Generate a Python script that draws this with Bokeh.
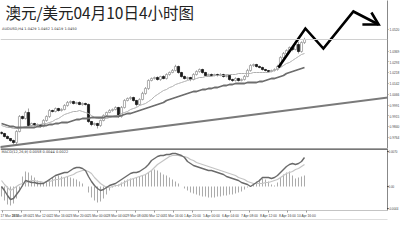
from bokeh.plotting import figure
from bokeh.models import (Range1d, Span, Slope, Label, PrintfTickFormatter, FixedTicker,
                          ColumnDataSource, LinearAxis, CustomJSTickFormatter)
from bokeh.layouts import column
from bokeh.embed import file_html
from bokeh.resources import INLINE

# ---------------- data (AUD/USD, H4) ----------------
first_open = 0.9800
closes = [
    0.9792, 0.9771, 0.9757, 0.9743, 0.9729, 0.9806, 0.9911, 0.9897, 0.9939, 0.9848,
    0.9862, 0.9848, 0.9855, 0.9841, 0.9883, 0.9911, 0.9953, 0.9946, 0.9967, 0.9953,
    0.9960, 0.9988, 1.0009, 1.0016, 1.0002, 1.0009, 0.9995, 1.0002, 0.9995, 0.9876,
    0.9855, 0.9862, 0.9848, 0.9883, 0.9918, 0.9939, 0.9953, 0.9960, 0.9974, 0.9911,
    0.9974, 1.0023, 1.0037, 1.0044, 1.0023, 0.9995, 1.0030, 1.0072, 1.0107, 1.0163,
    1.0177, 1.0184, 1.0170, 1.0191, 1.0177, 1.0205, 1.0219, 1.0233, 1.0261, 1.0219,
    1.0191, 1.0177, 1.0184, 1.0170, 1.0205, 1.0226, 1.0240, 1.0219, 1.0198, 1.0205,
    1.0198, 1.0205, 1.0198, 1.0205, 1.0191, 1.0198, 1.0170, 1.0163, 1.0177, 1.0163,
    1.0170, 1.0191, 1.0233, 1.0268, 1.0275, 1.0261, 1.0254, 1.0240, 1.0233, 1.0226,
    1.0233, 1.0240, 1.0261, 1.0324, 1.0352, 1.0373, 1.0394, 1.0380, 1.0415, 1.0366,
    1.0429, 1.0450,
]
# upper / lower shadow lengths in pips
wick_up = [
    6, 5, 8, 4, 6, 9, 10, 7, 12, 28,
    6, 5, 7, 4, 9, 8, 10, 6, 7, 5,
    8, 9, 10, 7, 6, 5, 8, 7, 6, 7,
    4, 6, 5, 7, 8, 6, 9, 7, 8, 5,
    10, 9, 7, 8, 6, 5, 9, 12, 10, 8,
    7, 6, 8, 5, 9, 8, 7, 10, 12, 7,
    5, 7, 6, 5, 9, 8, 7, 6, 5, 6,
    7, 5, 6, 8, 5, 7, 4, 6, 8, 5,
    7, 10, 12, 9, 6, 5, 7, 6, 5, 4,
    6, 8, 12, 9, 10, 8, 7, 9, 6, 20,
    8, 12,
]
wick_dn = [
    8, 7, 6, 9, 14, 10, 6, 8, 7, 10,
    6, 8, 5, 7, 6, 8, 9, 7, 6, 8,
    7, 6, 8, 9, 7, 6, 5, 8, 7, 10,
    12, 8, 21, 9, 6, 7, 5, 8, 6, 9,
    8, 7, 6, 9, 8, 14, 7, 6, 8, 9,
    6, 7, 8, 9, 6, 7, 8, 5, 6, 9,
    8, 7, 9, 12, 6, 7, 8, 9, 6, 7,
    8, 6, 7, 5, 8, 6, 9, 10, 7, 8,
    6, 7, 5, 8, 9, 7, 6, 8, 7, 9,
    6, 7, 8, 9, 6, 10, 8, 12, 6, 14,
    8, 10,
]
ma_fast = [
    0.9848, 0.9841, 0.9834, 0.9834, 0.9827, 0.9827, 0.9827, 0.9834, 0.9841, 0.9841,
    0.9848, 0.9848, 0.9855, 0.9855, 0.9862, 0.9862, 0.9869, 0.9876, 0.9890, 0.9897,
    0.9911, 0.9925, 0.9932, 0.9939, 0.9946, 0.9946, 0.9953, 0.9946, 0.9939, 0.9932,
    0.9918, 0.9904, 0.9897, 0.9897, 0.9897, 0.9897, 0.9904, 0.9911, 0.9918, 0.9918,
    0.9932, 0.9939, 0.9946, 0.9960, 0.9967, 0.9974, 0.9988, 0.9995, 1.0002, 1.0016,
    1.0030, 1.0051, 1.0065, 1.0079, 1.0093, 1.0100, 1.0114, 1.0121, 1.0135, 1.0142,
    1.0149, 1.0156, 1.0163, 1.0170, 1.0170, 1.0177, 1.0184, 1.0184, 1.0191, 1.0191,
    1.0191, 1.0198, 1.0198, 1.0198, 1.0198, 1.0205, 1.0205, 1.0205, 1.0205, 1.0212,
    1.0212, 1.0212, 1.0212, 1.0212, 1.0219, 1.0219, 1.0219, 1.0219, 1.0219, 1.0219,
    1.0226, 1.0233, 1.0247, 1.0254, 1.0268, 1.0282, 1.0289, 1.0303, 1.0317, 1.0331,
    1.0345, 1.0352,
]
ma_slow = [
    0.9862, 0.9855, 0.9848, 0.9841, 0.9841, 0.9834, 0.9834, 0.9834, 0.9834, 0.9834,
    0.9834, 0.9834, 0.9841, 0.9841, 0.9848, 0.9848, 0.9855, 0.9855, 0.9862, 0.9862,
    0.9869, 0.9869, 0.9869, 0.9876, 0.9883, 0.9890, 0.9890, 0.9897, 0.9897, 0.9897,
    0.9904, 0.9904, 0.9904, 0.9904, 0.9904, 0.9911, 0.9911, 0.9911, 0.9911, 0.9911,
    0.9918, 0.9925, 0.9932, 0.9932, 0.9939, 0.9946, 0.9953, 0.9960, 0.9967, 0.9974,
    0.9981, 0.9988, 0.9995, 1.0002, 1.0009, 1.0023, 1.0030, 1.0037, 1.0044, 1.0051,
    1.0058, 1.0065, 1.0072, 1.0079, 1.0086, 1.0086, 1.0093, 1.0100, 1.0100, 1.0107,
    1.0107, 1.0114, 1.0114, 1.0121, 1.0128, 1.0128, 1.0135, 1.0135, 1.0142, 1.0142,
    1.0142, 1.0142, 1.0149, 1.0149, 1.0149, 1.0149, 1.0156, 1.0156, 1.0163, 1.0170,
    1.0177, 1.0177, 1.0184, 1.0191, 1.0198, 1.0212, 1.0219, 1.0226, 1.0233, 1.0240,
    1.0247, 1.0254,
]
# long-term trend line (start value at bar 0, rise per bar)
trend_start = 0.9698
trend_per_bar = 0.000268

# MACD panel, in units of 0.0001
macd_main = [
    0, -8, -18, -26, -24, -16, -8, 2, 12, 10,
    8, 8, 6, 6, 6, 10, 14, 18, 22, 24,
    26, 28, 28, 32, 36, 38, 38, 36, 32, 20,
    10, 2, -4, -8, -6, -2, 2, 4, 6, 10,
    14, 18, 22, 26, 28, 28, 30, 34, 38, 44,
    52, 56, 60, 62, 62, 64, 64, 66, 66, 64,
    62, 58, 50, 46, 42, 40, 38, 36, 34, 32,
    32, 30, 28, 26, 24, 20, 18, 16, 14, 12,
    8, 6, 4, 0, 4, 8, 12, 18, 18, 18,
    16, 18, 22, 28, 34, 40, 44, 46, 44, 46,
    50, 58,
]
macd_signal = [
    12, 4, -2, -8, -4, 0, 4, 6, 8, 10,
    12, 12, 10, 10, 8, 10, 10, 12, 14, 14,
    16, 18, 20, 22, 24, 28, 30, 32, 32, 30,
    26, 18, 12, 6, 2, -2, -2, 0, 2, 2,
    6, 8, 12, 14, 16, 18, 20, 22, 24, 28,
    32, 38, 44, 48, 52, 56, 60, 62, 62, 62,
    60, 60, 58, 54, 52, 48, 46, 44, 42, 40,
    38, 36, 34, 32, 30, 28, 26, 24, 22, 18,
    16, 14, 10, 8, 6, 6, 6, 6, 8, 8,
    10, 12, 14, 18, 22, 26, 28, 30, 34, 36,
    40, 44,
]
macd_hist = [
    -20, -28, -36, -38, -34, -24, -8, 20, 30, 28,
    22, 18, 12, 8, 6, 10, 14, 18, 20, 22,
    20, 18, 20, 18, 16, 14, 10, 6, 0, -12,
    -22, -28, -32, -30, -24, -16, -8, -2, 2, 4,
    8, 12, 14, 16, 16, 18, 20, 22, 24, 28,
    32, 34, 32, 28, 24, 22, 18, 14, 10, 6,
    0, -4, -8, -12, -14, -16, -18, -20, -20, -22,
    -22, -22, -20, -20, -18, -18, -16, -16, -14, -12,
    -10, -6, -2, 0, 6, 10, 14, 16, 14, 10,
    4, 2, 8, 18, 24, 28, 30, 22, 16, 18,
    20, 22,
]

price_ticks = [1.0520, 1.0369, 1.0293, 1.0218, 1.0142, 1.0066, 0.9991, 0.9915, 0.9840, 0.9764]
current_price = 1.0450
macd_ticks = [0.0070, 0.0, -0.0044]
macd_tick_labels = ["0.0070", "0.00", "-0.0044"]
time_labels = ["17 Mar 2011", "18 Mar 08:00", "21 Mar 12:00", "22 Mar 16:00", "23 Mar 20:00",
               "25 Mar 00:00", "28 Mar 04:00", "29 Mar 08:00", "30 Mar 12:00", "31 Mar 16:00",
               "1 Apr 20:00", "5 Apr 00:00", "6 Apr 04:00", "7 Apr 08:00", "8 Apr 12:00",
               "8 Apr 16:00", "10 Apr 16:00"]

# hand-drawn zig-zag forecast arrow (bar index, price)
zz_x = [92.3, 101.3, 107.3, 117.3, 125.7]
zz_y = [1.0254, 1.0527, 1.0387, 1.0646, 1.0555]
head_x = [120.3, 125.7, 123.3]
head_y = [1.0555, 1.0555, 1.0639]

title_text = "澳元/美元04月10日4小时图"
info_text = "AUDUSD,H4  1.0429 1.0462 1.0419 1.0450"
macd_text = "MACD(12,26,9) 0.0058 0.0044 0.0022"

# ---------------- build ----------------
n = len(closes)
idx = list(range(n))
opens = [first_open] + closes[:-1]
highs = [max(o, c) + u * 1e-4 for o, c, u in zip(opens, closes, wick_up)]
lows = [min(o, c) - d * 1e-4 for o, c, d in zip(opens, closes, wick_dn)]
bull = [c >= o for o, c in zip(opens, closes)]

def sub(mask):
    return ColumnDataSource(dict(
        x=[i for i, m in zip(idx, mask) if m],
        top=[max(o, c) for o, c, m in zip(opens, closes, mask) if m],
        bottom=[min(o, c) for o, c, m in zip(opens, closes, mask) if m],
    ))

xr = Range1d(-1 / 3, 128.67)

p1 = figure(frame_width=387, frame_height=148, x_range=xr, y_range=Range1d(0.9687, 1.0723),
            y_axis_location="right", x_axis_location=None,
            output_backend="svg", toolbar_location=None, min_border=0)
p1.outline_line_color = None
p1.grid.visible = False
p1.yaxis.ticker = FixedTicker(ticks=price_ticks)
p1.yaxis.formatter = PrintfTickFormatter(format="%.4f")
p1.yaxis.major_label_text_font_size = "3.2px"
p1.yaxis.major_label_text_color = "#444444"
p1.yaxis.major_label_standoff = 1
p1.yaxis.major_tick_out = 1
p1.yaxis.major_tick_in = 0
p1.yaxis.minor_tick_out = 0
p1.yaxis.minor_tick_in = 0
p1.yaxis.axis_line_color = "#888888"
p1.yaxis.major_tick_line_color = "#888888"

p1.add_layout(Span(location=current_price, dimension="width", line_color="#d0d0d0", line_width=1))
p1.add_layout(Slope(gradient=trend_per_bar, y_intercept=trend_start, line_color="#7a7a7a", line_width=2))

p1.segment(idx, highs, idx, lows, line_color="#8a8a8a", line_width=0.8)
p1.vbar(x="x", top="top", bottom="bottom", width=0.7, source=sub(bull),
        fill_color="white", line_color="#9a9a9a", line_width=0.8)
p1.vbar(x="x", top="top", bottom="bottom", width=0.7, source=sub([not b for b in bull]),
        fill_color="#1a1a1a", line_color="#1a1a1a", line_width=0.8)

p1.line(idx, ma_fast, line_color="#b0b0b0", line_width=1)
p1.line(idx, ma_slow, line_color="#6e6e6e", line_width=1.8)

p1.line(zz_x, zz_y, line_color="black", line_width=2.6, line_join="miter")
p1.line(head_x, head_y, line_color="black", line_width=2.6, line_join="miter")

p1.add_layout(Label(x=1.3, y=1.0720, text=title_text, text_font="Noto Sans CJK SC",
                    text_font_size="15.5px", text_color="#222222", text_baseline="top"))
p1.add_layout(Label(x=0.2, y=1.0541, text=info_text, text_font="DejaVu Sans",
                    text_font_size="3.5px", text_color="#333333", text_baseline="top"))
p1.add_layout(Label(x=128.67, y=current_price, text="1.0450", x_offset=1,
                    text_font="DejaVu Sans", text_font_size="3.2px", text_color="white",
                    text_baseline="middle", background_fill_color="black"))

macd_scale = 1e-4
p2 = figure(frame_width=387, frame_height=62, x_range=xr, y_range=Range1d(-0.0048, 0.0076),
            y_axis_location="right", output_backend="svg", toolbar_location=None, min_border=0)
p2.outline_line_color = None
p2.grid.visible = False
p2.add_layout(Span(location=0.0076, dimension="width", line_color="#4a4a4a", line_width=2.5))
p2.add_layout(Span(location=-0.0048, dimension="width", line_color="#8a8a8a", line_width=1))

p2.segment(idx, [0] * n, idx, [h * macd_scale for h in macd_hist], line_color="#a0a0a0", line_width=0.9)
p2.line(idx, [s * macd_scale for s in macd_signal], line_color="#c4c4c4", line_width=1.2)
p2.line(idx, [m * macd_scale for m in macd_main], line_color="#6a6a6a", line_width=1.4)

p2.yaxis.ticker = FixedTicker(ticks=macd_ticks)
p2.yaxis.formatter = CustomJSTickFormatter(args=dict(labels=macd_tick_labels),
                                           code="return labels[index];")
p2.yaxis.major_label_text_font_size = "2.9px"
p2.yaxis.major_label_text_color = "#444444"
p2.yaxis.major_label_standoff = 0
p2.yaxis.major_tick_out = 1
p2.yaxis.major_tick_in = 0
p2.yaxis.minor_tick_out = 0
p2.yaxis.minor_tick_in = 0
p2.yaxis.axis_line_color = "#888888"

tick_pos = [(1 + 19 * k) / 3 for k in range(len(time_labels))]
p2.xaxis.ticker = FixedTicker(ticks=tick_pos)
p2.xaxis.formatter = CustomJSTickFormatter(args=dict(labels=time_labels), code="return labels[index];")
p2.xaxis.major_label_text_font_size = "3.3px"
p2.xaxis.major_label_text_color = "#444444"
p2.xaxis.major_label_text_align = "left"
p2.xaxis.major_label_standoff = 1
p2.xaxis.major_tick_out = 2
p2.xaxis.major_tick_in = 0
p2.xaxis.minor_tick_out = 0
p2.xaxis.minor_tick_in = 0
p2.xaxis.axis_line_color = None
p2.xaxis.major_tick_line_color = "#999999"

bottom_rule = LinearAxis(ticker=FixedTicker(ticks=[]), major_label_text_font_size="0px",
                         axis_line_color="#bdbdbd", axis_line_width=2)
p2.add_layout(bottom_rule, "below")

p2.add_layout(Label(x=0.0, y=0.0073, text=macd_text, text_font="DejaVu Sans",
                    text_font_size="3.5px", text_color="#333333", text_baseline="top"))

layout = column(p1, p2)
open("out.html", "w").write(file_html(layout, INLINE))
